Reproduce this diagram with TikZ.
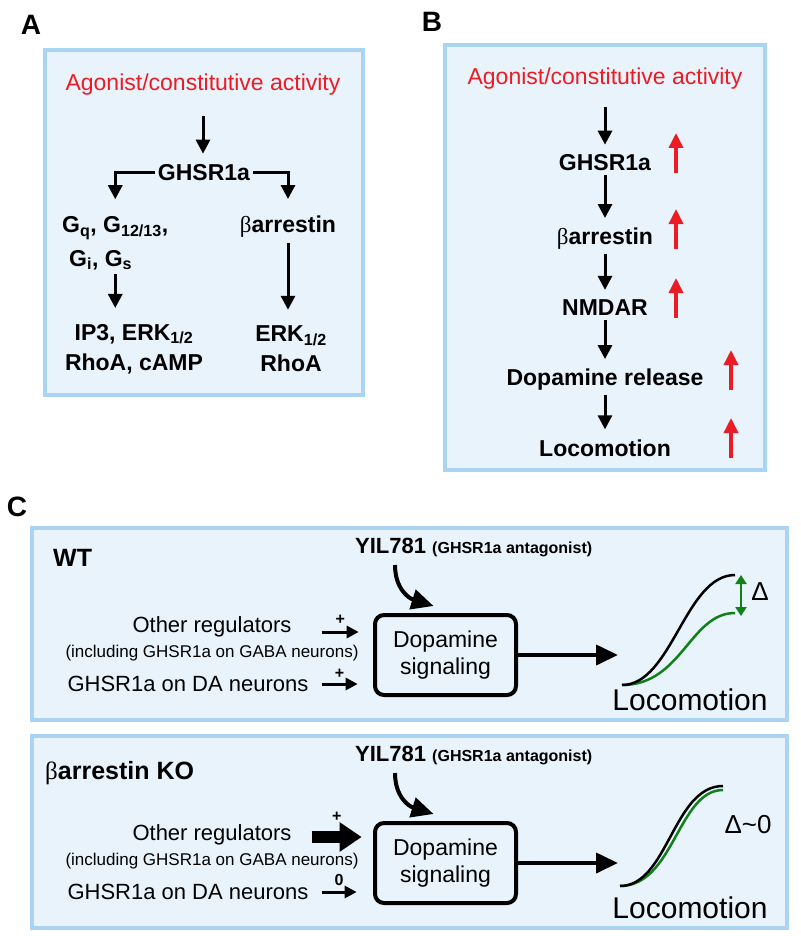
\documentclass[tikz,border=0pt]{standalone}
\usepackage{fontspec}
\setmainfont{Liberation Sans}
\newfontfamily\betafont{Liberation Serif}
\usetikzlibrary{arrows.meta,positioning}
\definecolor{panelfill}{RGB}{232,243,252}
\definecolor{paneledge}{RGB}{170,212,244}
\definecolor{agored}{RGB}{235,28,36}
\definecolor{deltagreen}{RGB}{16,128,24}
\newcommand{\pxfont}[2]{\fontsize{#1}{#2}\selectfont}
\newcommand{\barr}{{\betafont\mdseries β}}
\tikzset{
    panel/.style={draw=paneledge, fill=panelfill, line width=4pt},
    paneltag/.style={font=\bfseries\pxfont{28}{34}, inner sep=0pt},
    agotext/.style={text=agored, font=\pxfont{23}{28}, inner sep=0pt},
    mol/.style={font=\bfseries\pxfont{23}{30}, align=center, inner sep=0pt},
    reg/.style={font=\pxfont{22}{26}, inner sep=0pt},
    sign/.style={font=\bfseries\pxfont{16}{18}, inner sep=0pt},
    arr/.style={line width=3pt, -{Triangle[length=14pt,width=14pt]}},
    uparr/.style={line width=3.5pt, agored, -{Triangle[length=15pt,width=14pt]}},
    inarr/.style={line width=3pt, -{Triangle[length=12pt,width=12pt]}},
    fatarr/.style={line width=12pt, -{Triangle[length=22pt,width=28pt]}},
    bigarr/.style={line width=4pt, -{Triangle[length=22pt,width=20pt]}},
    dopabox/.style={draw, line width=4pt, rounded corners=9pt, fill=panelfill, minimum width=141pt, minimum height=80pt, font=\pxfont{23}{27}, align=center, inner sep=0pt},
    sig/.style={line width=2.5pt},
}
\begin{document}
\begin{tikzpicture}[x=1pt, y=-1pt]
    \fill[white] (0,0) rectangle (800,936);
    \useasboundingbox (0,0) rectangle (800,936);

    \draw[panel] (45,50) rectangle (363,395);
    \node[paneltag] (tagA) at (31,25) {A};
    \node[agotext] (agoA) at (203,85) {Agonist/constitutive activity};
    \node[mol] (ghsrA) at (204,173) {GHSR1a};
    \node[mol, anchor=west] (gA) at (62,228) {G\textsubscript{q}, G\textsubscript{12/13},};
    \node[mol, anchor=west] (giA) at (69,260) {G\textsubscript{i}, G\textsubscript{s}};
    \node[mol] (barrA) at (288,227) {\barr arrestin};
    \node[mol] (goutA) at (134,349) {IP3, ERK\textsubscript{1/2}\\RhoA, cAMP};
    \node[mol] (boutA) at (291,349) {ERK\textsubscript{1/2}\\RhoA};
    \draw[arr, shorten <=20pt, shorten >=11pt] (agoA.south) -- (agoA.south |- ghsrA.north);
    \draw[arr, shorten <=3pt, shorten >=17pt] (ghsrA.west) -| (gA.north);
    \draw[arr, shorten <=3pt, shorten >=17pt] (ghsrA.east) -| (barrA.north);
    \draw[arr, shorten <=4pt, shorten >=16pt] (giA.south -| gA.north) -- (goutA.north -| gA.north);
    \draw[arr, shorten <=5pt, shorten >=16pt] (barrA.south) -- (barrA.south |- boutA.north);

    \draw[panel] (445,45) rectangle (765,470);
    \node[paneltag] (tagB) at (432,22) {B};
    \node[agotext] (agoB) at (605,79) {Agonist/constitutive activity};
    \node[mol] (ghsrB) at (605,163) {GHSR1a};
    \node[mol] (barrB) at (605,239) {\barr arrestin};
    \node[mol] (nmdarB) at (605,308) {NMDAR};
    \node[mol] (dopaB) at (605,380) {Dopamine release};
    \node[mol] (locoB) at (605,448) {Locomotion};
    \coordinate (upnear) at (676,0);
    \coordinate (upfar) at (731,0);
    \draw[arr, shorten <=17pt, shorten >=10pt] (agoB.south) -- (agoB.south |- ghsrB.north);
    \foreach \a/\b in {ghsrB/barrB, barrB/nmdarB, nmdarB/dopaB, dopaB/locoB}
        \draw[arr, shorten <=4pt, shorten >=10pt] (\a.south) -- (\a.south |- \b.north);
    \foreach \n/\c in {ghsrB/upnear, barrB/upnear, nmdarB/upnear, dopaB/upfar, locoB/upfar}
        \draw[uparr] (\n -| \c) ++(0,10) -- ++(0,-40);

    \node[paneltag] (tagC) at (17,507) {C};
    \foreach \kind/\dy/\title/\tx/\ty in {WT/0/WT/53/558, KO/208/{\barr arrestin KO}/45/565}{
        \begin{scope}[shift={(0,\dy)}]
        \draw[panel] (32,528) rectangle (787,720);
        \node[font=\bfseries\pxfont{25}{30}, anchor=west, inner sep=0pt] (title\kind) at (\tx,\ty) {\title};
        \node[font=\bfseries\pxfont{22}{26}, anchor=west, inner sep=0pt] (drug\kind) at (355,548) {YIL781 {\pxfont{16}{20}(GHSR1a antagonist)}};
        \node[dopabox] (sig\kind) at (445.5,655) {Dopamine\\signaling};
        \node[reg] (other\kind) at (212,627) {Other regulators};
        \node[font=\pxfont{17}{20}, inner sep=0pt] (incl\kind) at (212,653) {(including GHSR1a on GABA neurons)};
        \node[reg] (da\kind) at (188,684) {GHSR1a on DA neurons};
        \node[font=\pxfont{30}{34}, inner sep=0pt] (loco\kind) at (690,700) {Locomotion};
        \coordinate (tail\kind) at (395,565);
        \coordinate (out\kind) at (618,655);
        \draw[bigarr] (tail\kind) .. controls (395,588) and (408,598) .. ([xshift=-12pt,yshift=7pt]sig\kind.north);
        \draw[bigarr] (sig\kind) -- (out\kind);
        \end{scope}
    }

    \draw[inarr] (otherWT.east) ++(30,5) -- ++(37,0) node[sign, midway, above=6pt] {+};
    \draw[inarr] (daWT.east) ++(13,0) -- ++(36,0) node[sign, midway, above=4pt] {+};
    \draw[sig, deltagreen] (622,685) .. controls (682,685) and (690,613) .. (735,613);
    \draw[sig] (622,685) .. controls (672,685) and (685,575) .. (735,575);
    \draw[sig, deltagreen, {Triangle[length=9pt,width=11pt]}-{Triangle[length=9pt,width=11pt]}] (741,575) -- (741,616);
    \node[font=\pxfont{26}{30}] (deltaWT) at (760,592) {Δ};

    \draw[fatarr] (otherKO.east) ++(20,2) -- ++(50,0) node[sign, midway, above=10pt] {+};
    \draw[inarr] (daKO.east) ++(13,0) -- ++(35,0) node[sign, midway, above=5pt] {0};
    \draw[sig, deltagreen] (620,886) .. controls (674,886) and (678,790) .. (723,790);
    \draw[sig] (620,886) .. controls (668,886) and (673,786) .. (723,786);
    \node[font=\pxfont{26}{30}] (deltaKO) at (748,825) {Δ\textasciitilde 0};
\end{tikzpicture}
\end{document}
